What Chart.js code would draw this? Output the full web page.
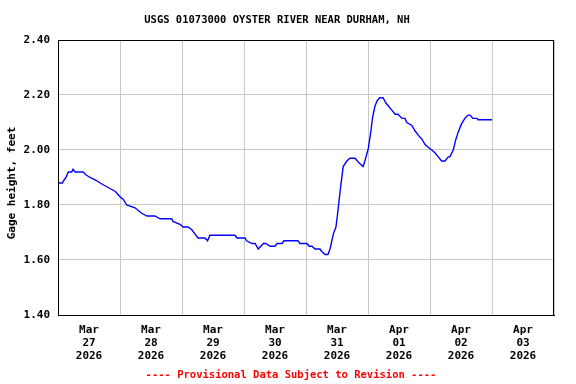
<!DOCTYPE html>
<html>
<head>
<meta charset="utf-8">
<script src="https://cdn.jsdelivr.net/npm/chart.js@4/dist/chart.umd.min.js"></script>
<style>
  html, body { margin: 0; padding: 0; background: #ffffff; }
  #wrap { width: 576px; height: 384px; position: relative; }
</style>
</head>
<body>
<div id="wrap"><canvas id="c" width="576" height="384"></canvas></div>
<script>
// Hours since 2026-03-27 00:00 local time
const hours = [0,1.7,2.3,3.1,4.0,5.3,5.8,6.6,9.7,10.8,12.4,14.7,16.3,18.2,20.1,22.1,24,25.3,26.6,29.8,32.4,34.5,37.5,39.5,44.0,44.5,47.2,48.4,50.3,51.8,53.0,54.2,56.9,57.9,58.8,68.5,69.3,72.4,73.0,75.1,76.3,77.5,79.5,80.5,82.1,84.0,84.8,86.7,87.5,92.9,93.7,96.4,97.2,98.3,99.5,101.4,102.2,103.4,104.5,105.3,106.6,107.6,108.5,109.2,109.8,110.4,111.8,113.0,115.0,116.3,118.1,118.8,120.1,121.0,121.8,122.7,123.6,124.6,125.8,127.0,127.9,129.2,130.5,131.6,133.2,134.3,135.0,136.9,138.2,139.5,140.8,142.1,143.3,144.7,145.9,147.2,148.5,149.8,151.1,151.7,153.0,153.9,154.9,156.2,157.5,158.7,159.5,160.6,162.2,162.6,168.0];
const gageFeet = [1.88,1.88,1.89,1.90,1.92,1.92,1.93,1.92,1.92,1.91,1.90,1.89,1.88,1.87,1.86,1.85,1.83,1.82,1.80,1.79,1.77,1.76,1.76,1.75,1.75,1.74,1.73,1.72,1.72,1.71,1.695,1.68,1.68,1.67,1.69,1.69,1.68,1.68,1.67,1.66,1.66,1.64,1.66,1.66,1.65,1.65,1.66,1.66,1.67,1.67,1.66,1.66,1.65,1.65,1.64,1.64,1.63,1.62,1.62,1.64,1.695,1.72,1.79,1.85,1.895,1.94,1.96,1.97,1.97,1.955,1.94,1.96,2.005,2.06,2.12,2.16,2.18,2.19,2.19,2.17,2.16,2.145,2.13,2.13,2.115,2.115,2.10,2.09,2.07,2.053,2.04,2.02,2.01,2.00,1.99,1.975,1.96,1.96,1.975,1.975,2.00,2.035,2.065,2.095,2.115,2.127,2.127,2.115,2.115,2.11,2.11];

// Date tick labels (placed at noon of each day)
const tickHours = [12,36,60,84,108,132,156,180];
const tickMonths = ["Mar","Mar","Mar","Mar","Mar","Apr","Apr","Apr"];
const tickDays = ["27","28","29","30","31","01","02","03"];
const tickYears = ["2026","2026","2026","2026","2026","2026","2026","2026"];
const yTicks = [1.40,1.60,1.80,2.00,2.20,2.40];

const titleText = "USGS 01073000 OYSTER RIVER NEAR DURHAM, NH";
const yTitle = "Gage height, feet";
const footerText = "---- Provisional Data Subject to Revision ----";

const FONT = "'DejaVu Sans Mono', 'Liberation Mono', monospace";

const decor = {
  id: 'decor',
  afterDraw(chart) {
    const ctx = chart.ctx;
    const a = chart.chartArea;
    ctx.save();
    ctx.strokeStyle = '#000000';
    ctx.lineWidth = 1;
    ctx.strokeRect(Math.round(a.left) + 0.5, Math.round(a.top) + 0.5,
                   Math.round(a.right - a.left) - 1, Math.round(a.bottom - a.top));
    ctx.fillStyle = '#000000';
    ctx.font = "bold 10.5px " + FONT;
    ctx.textAlign = 'center';
    ctx.textBaseline = 'middle';
    ctx.fillText(titleText, 277, 20);
    ctx.font = "bold 11px " + FONT;
    ctx.save();
    ctx.translate(12, 183);
    ctx.rotate(-Math.PI / 2);
    ctx.fillText(yTitle, 0, 0);
    ctx.restore();
    ctx.font = "bold 10.5px " + FONT;
    ctx.fillStyle = '#ff0000';
    ctx.fillText(footerText, 291, 375);
    ctx.restore();
  }
};

new Chart(document.getElementById('c'), {
  type: 'line',
  data: {
    datasets: [{
      data: hours.map((h, i) => ({ x: h, y: gageFeet[i] })),
      borderColor: '#0000ff',
      borderWidth: 1.4,
      pointRadius: 0,
      tension: 0,
      fill: false
    }]
  },
  options: {
    responsive: false,
    animation: false,
    layout: { padding: { left: 0, right: 22, top: 40, bottom: 0 } },
    plugins: { legend: { display: false }, tooltip: { enabled: false }, title: { display: false } },
    scales: {
      x: {
        type: 'linear', position: 'bottom', min: 0, max: 192,
        ticks: { display: false, stepSize: 24 },
        grid: { color: '#c8c8c8', lineWidth: 1, drawTicks: false },
        border: { color: '#000000', width: 1 },
        afterFit(s) { s.height = 0; }
      },
      x2: {
        type: 'linear', position: 'bottom', min: 0, max: 192,
        afterBuildTicks(s) { s.ticks = tickHours.map(v => ({ value: v })); },
        ticks: {
          autoSkip: false, maxRotation: 0, minRotation: 0, padding: 9,
          color: '#000000',
          font: { family: FONT, size: 11, weight: 'bold', lineHeight: 1.18 },
          callback(v, i) { return [tickMonths[i], tickDays[i], tickYears[i]]; }
        },
        grid: { display: false, drawTicks: false },
        border: { display: false },
        afterFit(s) { s.height = 69; }
      },
      y: {
        type: 'linear', min: 1.40, max: 2.40,
        afterBuildTicks(s) { s.ticks = yTicks.map(v => ({ value: v })); },
        ticks: {
          padding: 8, color: '#000000',
          font: { family: FONT, size: 11, weight: 'bold' },
          callback(v) { return Number(v).toFixed(2); }
        },
        grid: { color: '#c8c8c8', lineWidth: 1, drawTicks: false },
        border: { color: '#000000', width: 1 },
        afterFit(s) { s.width = 58; }
      }
    }
  },
  plugins: [decor]
});
</script>
</body>
</html>
